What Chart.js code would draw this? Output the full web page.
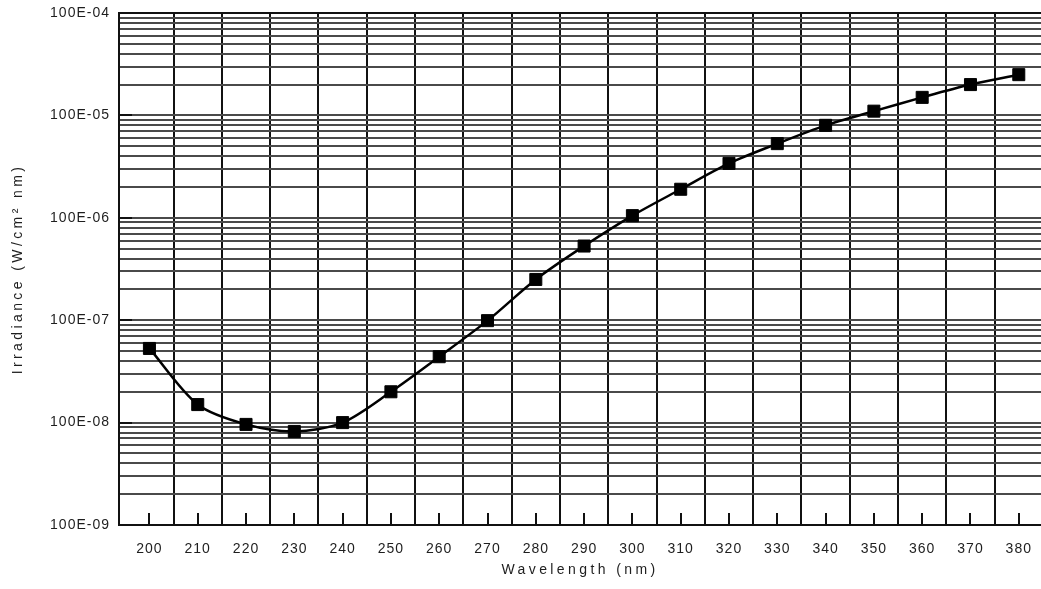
<!DOCTYPE html>
<html>
<head>
<meta charset="utf-8">
<script src="https://cdn.jsdelivr.net/npm/chart.js@4"></script>
<style>
    html, body { margin: 0; padding: 0; background: #fff; }
    #wrap { width: 1041px; height: 589px; }
</style>
</head>
<body>
<div id="wrap"><canvas id="irradianceChart" width="1041" height="589"></canvas></div>
<script>
// values
const wavelengths = [200, 210, 220, 230, 240, 250, 260, 270, 280, 290, 300, 310, 320, 330, 340, 350, 360, 370, 380];
const irradiance = [5.3e-8, 1.5e-8, 9.6e-9, 8.2e-9, 1.0e-8, 2.0e-8, 4.4e-8, 9.9e-8, 2.5e-7, 5.3e-7, 1.05e-6, 1.9e-6, 3.4e-6, 5.3e-6, 8.0e-6, 1.1e-5, 1.5e-5, 2.0e-5, 2.5e-5];

// vertical grid sits between the wavelength ticks
const xGridLines = [205, 215, 225, 235, 245, 255, 265, 275, 285, 295, 305, 315, 325, 335, 345, 355, 365, 375];

// log axis: decades and the minor steps inside each decade
const yDecades = [1e-9, 1e-8, 1e-7, 1e-6, 1e-5, 1e-4];
const yDecadeLabels = ['100E-09', '100E-08', '100E-07', '100E-06', '100E-05', '100E-04'];
const yMinorSteps = [2, 3, 4, 5, 6, 7, 8, 9];

const yTicks = [];
yDecades.forEach((d, i) => {
    yTicks.push(d);
    if (i < yDecades.length - 1) {
        yMinorSteps.forEach((m) => yTicks.push(m * d));
    }
});

const fontFamily = '"Liberation Sans", Arial, Helvetica, sans-serif';
const textColor = '#1e1e1e';

const noOverflow = (scale) => {
    scale.paddingLeft = 0;
    scale.paddingRight = 0;
    scale.paddingTop = 0;
    scale.paddingBottom = 0;
};

const innerTicks = {
    id: 'innerTicks',
    beforeDraw(chart) {
        const ctx = chart.ctx;
        ctx.letterSpacing = '1px';
        Object.values(chart.scales).forEach((scale) => {
            if (!scale._spacedTitle) {
                const drawTitle = scale.drawTitle;
                scale.drawTitle = function () {
                    ctx.letterSpacing = '3.4px';
                    drawTitle.apply(this, arguments);
                    ctx.letterSpacing = '1px';
                };
                scale._spacedTitle = true;
            }
        });
    },
    beforeDatasetsDraw(chart) {
        const { ctx, chartArea, scales } = chart;
        ctx.save();
        ctx.strokeStyle = '#111';
        ctx.lineWidth = 2;
        ctx.beginPath();
        wavelengths.forEach((w) => {
            const px = Math.round(scales.x.getPixelForValue(w));
            ctx.moveTo(px, chartArea.bottom);
            ctx.lineTo(px, chartArea.bottom - 12);
        });
        yDecades.forEach((d) => {
            const py = Math.round(scales.y.getPixelForValue(d));
            ctx.moveTo(chartArea.left, py);
            ctx.lineTo(chartArea.left + 13, py);
        });
        ctx.stroke();
        ctx.restore();
    }
};

new Chart(document.getElementById('irradianceChart'), {
    type: 'line',
    data: {
        datasets: [{
            label: 'Irradiance',
            data: wavelengths.map((w, i) => ({ x: w, y: irradiance[i] })),
            borderColor: '#000',
            backgroundColor: '#000',
            borderWidth: 2.5,
            tension: 0.3,
            fill: false,
            pointStyle: 'rect',
            pointRadius: 8.5,
            pointBorderWidth: 1,
            pointBackgroundColor: '#000',
            pointBorderColor: '#000',
            xAxisID: 'x',
            yAxisID: 'y',
        }]
    },
    options: {
        responsive: false,
        animation: false,
        layout: { autoPadding: false, padding: { left: 0, right: 0, top: 13, bottom: 0 } },
        plugins: {
            legend: { display: false },
            tooltip: { enabled: false }
        },
        scales: {
            x: {
                type: 'linear',
                position: 'bottom',
                min: 193.7,
                max: 384.6,
                afterBuildTicks: (scale) => {
                    scale.ticks = wavelengths.map((w) => ({ value: w }));
                },
                afterFit: (scale) => {
                    scale.height = 64;
                    noOverflow(scale);
                },
                grid: { display: false, drawTicks: false },
                border: { display: true, color: '#111', width: 2 },
                ticks: {
                    autoSkip: false,
                    maxRotation: 0,
                    padding: 16,
                    color: textColor,
                    font: { family: fontFamily, size: 14 },
                    callback: (value) => String(value)
                },
                title: {
                    display: true,
                    text: 'Wavelength (nm)',
                    color: textColor,
                    font: { family: fontFamily, size: 14 },
                    padding: { top: 0, bottom: 10 }
                }
            },
            xg: {
                type: 'linear',
                position: 'top',
                min: 193.7,
                max: 384.6,
                afterBuildTicks: (scale) => {
                    scale.ticks = xGridLines.map((w) => ({ value: w }));
                },
                afterFit: (scale) => {
                    scale.height = 0;
                    noOverflow(scale);
                },
                grid: { color: '#111', lineWidth: 2, drawTicks: false },
                border: { display: false },
                ticks: { display: false }
            },
            y: {
                type: 'logarithmic',
                position: 'left',
                min: 1e-9,
                max: 1e-4,
                afterBuildTicks: (scale) => {
                    scale.ticks = yTicks.map((v) => ({ value: v }));
                },
                afterFit: (scale) => {
                    scale.width = 119;
                    noOverflow(scale);
                },
                grid: {
                    color: (c) => (c.tick && c.tick.value === 1e-4 ? '#111' : '#4a4a4a'),
                    lineWidth: 2,
                    drawTicks: false
                },
                border: { display: true, color: '#111', width: 2 },
                ticks: {
                    autoSkip: false,
                    padding: 9,
                    color: textColor,
                    font: { family: fontFamily, size: 14 },
                    callback: (value) => {
                        const i = yDecades.findIndex((d) => Math.abs(d - value) / d < 1e-6);
                        return i >= 0 ? yDecadeLabels[i] : '';
                    }
                },
                title: {
                    display: true,
                    text: 'Irradiance (W/cm² nm)',
                    color: textColor,
                    font: { family: fontFamily, size: 14 },
                    padding: { top: 10, bottom: 0 }
                }
            }
        }
    },
    plugins: [innerTicks]
});
</script>
</body>
</html>
